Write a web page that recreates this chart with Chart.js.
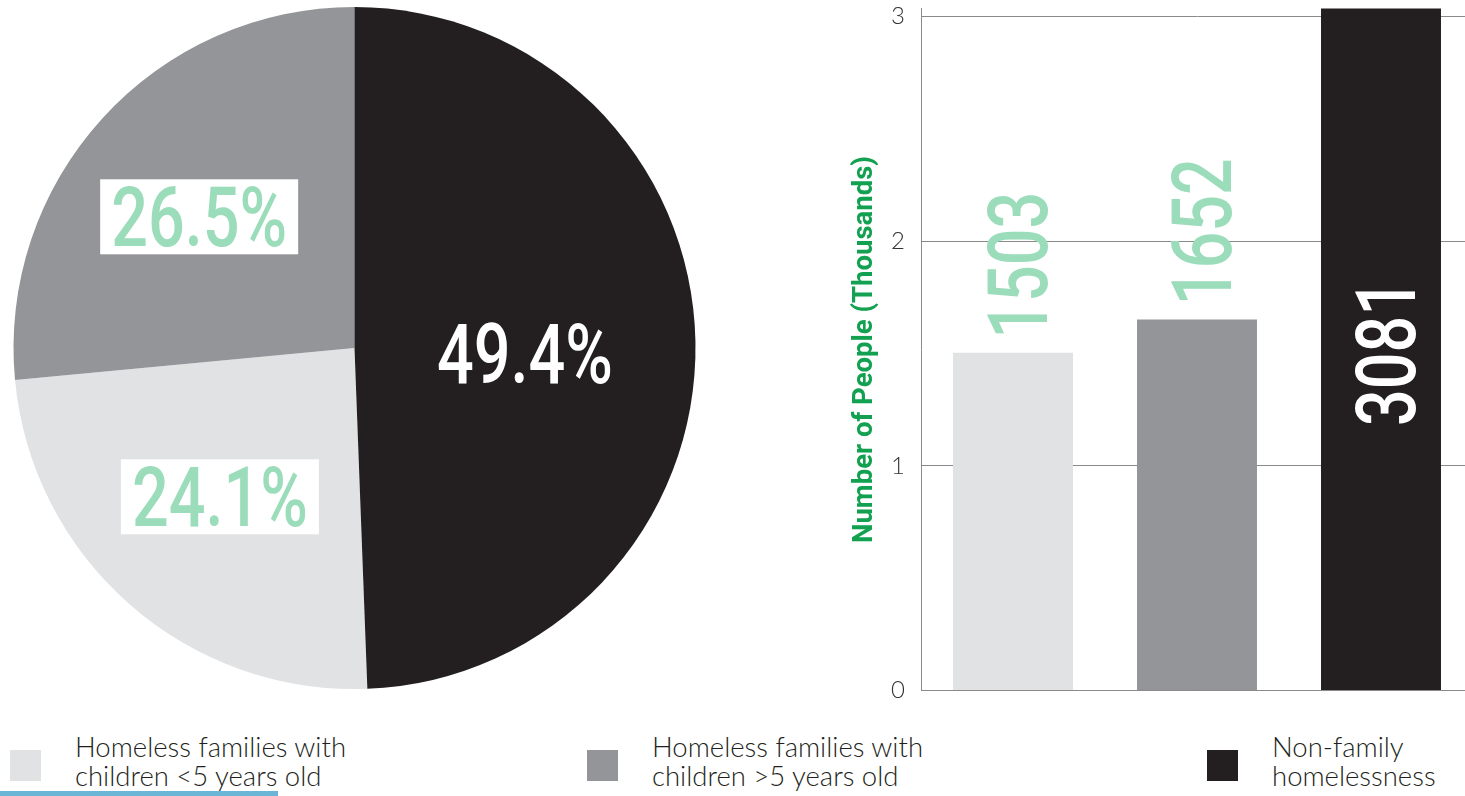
<!DOCTYPE html>
<html lang="en">
<head>
    <meta charset="utf-8">
    <title>Homelessness</title>
    <style>
        body { margin: 0; background: #fff; width: 1465px; height: 796px; overflow: hidden; position: relative; font-family: Lato, "Open Sans", sans-serif; }
        #pieBox { position: absolute; left: 0; top: 0; width: 710px; height: 700px; }
        #barBox { position: absolute; left: 830px; top: -22px; width: 643px; height: 743px; }
        .key { position: absolute; top: 732px; }
        .key .sw { position: absolute; top: 18px; left: 0; width: 31px; height: 31px; }
        .key .txt { position: absolute; top: 0; left: 65px; font-size: 27.5px; font-weight: 300; line-height: 29px; color: #231f20; white-space: nowrap; }
        #blueLine { position: absolute; left: 0; top: 791px; width: 278px; height: 5px; background: #6bb6d6; }
    </style>
</head>
<body>
<div id="pieBox"><canvas id="pieChart"></canvas></div>
<div id="barBox"><canvas id="barChart"></canvas></div>
<div id="legend"></div>
<div id="blueLine"></div>
<script src="https://cdn.jsdelivr.net/npm/chart.js@4.4.0/dist/chart.umd.min.js"></script>
<script type="text/javascript">
    // data
    var categories = ['Homeless families with\nchildren <5 years old', 'Homeless families with\nchildren >5 years old', 'Non-family\nhomelessness'];
    var sharePct = [24.1, 26.5, 49.4];
    var shareLabels = ['24.1%', '26.5%', '49.4%'];
    var peopleThousands = [1.503, 1.652, 3.081];
    var peopleLabels = ['1503', '1652', '3081'];
    var yTicks = [0, 1, 2, 3];

    var colors = ['#e1e2e4', '#939598', '#231f20'];
    var green = '#9bdcbb';
    var bigSize = 83;
    var bigFont = '500 ' + bigSize + 'px Roboto, sans-serif';
    var squeeze = 0.78;             // narrow the digits a bit (DIN-like)
    var capH = bigSize * 0.711;

    // legend (html)
    var legendX = [10, 587, 1207];
    var legend = document.getElementById('legend');
    categories.forEach(function (c, i) {
        var d = document.createElement('div');
        d.className = 'key';
        d.style.left = legendX[i] + 'px';
        d.innerHTML = '<div class="sw" style="background:' + colors[i] + '"></div><div class="txt"></div>';
        d.querySelector('.txt').innerHTML = c.replace(/</g, '&lt;').replace(/>/g, '&gt;').replace('\n', '<br>');
        legend.appendChild(d);
    });

    function squeezedText(ctx, txt, x, y) {
        // draws txt centred on (x, y) using cap height
        ctx.save();
        ctx.translate(x, y);
        ctx.scale(squeeze, 1);
        ctx.textAlign = 'center';
        ctx.textBaseline = 'alphabetic';
        ctx.fillText(txt, 0, capH / 2);
        ctx.restore();
    }

    var pieLabels = {
        id: 'pieLabels',
        afterDatasetsDraw: function (chart, args, opts) {
            var ctx = chart.ctx;
            var arcs = chart.getDatasetMeta(0).data;
            ctx.save();
            ctx.font = bigFont;
            arcs.forEach(function (a, i) {
                var mid = (a.startAngle + a.endAngle) / 2;
                var r = a.outerRadius * opts.radius[i];
                var x = a.x + Math.cos(mid) * r + opts.dx[i];
                var y = a.y + Math.sin(mid) * r + opts.dy[i];
                if (opts.boxed[i]) {
                    ctx.fillStyle = '#fff';
                    ctx.fillRect(x - 99, y - 37, 198, 75);
                }
                ctx.fillStyle = opts.color[i];
                squeezedText(ctx, shareLabels[i], x, y);
            });
            ctx.restore();
        }
    };

    new Chart(document.getElementById('pieChart'), {
        type: 'pie',
        data: {
            labels: categories,
            datasets: [{data: sharePct, backgroundColor: colors, borderWidth: 0}]
        },
        options: {
            responsive: true,
            maintainAspectRatio: false,
            animation: false,
            rotation: (sharePct[2] / 100) * 360,
            layout: {padding: {left: 13, right: 14, top: 7, bottom: 11}},
            plugins: {
                legend: {display: false},
                tooltip: {enabled: false},
                pieLabels: {radius: [0.59, 0.6, 0.5], dx: [-2, -4, 0], dy: [-3, 6, 9],
                    boxed: [true, true, false], color: [green, green, '#fff']}
            }
        },
        plugins: [pieLabels]
    });

    var barLabels = {
        id: 'barLabels',
        afterDatasetsDraw: function (chart) {
            var ctx = chart.ctx;
            var bars = chart.getDatasetMeta(0).data;
            var yScale = chart.scales.y;
            var area = chart.chartArea;
            ctx.save();
            ctx.font = bigFont;
            bars.forEach(function (b, i) {
                var len = ctx.measureText(peopleLabels[i]).width * squeeze;
                var cy;
                if (peopleThousands[i] > yScale.max) {
                    cy = (area.top + area.bottom) / 2 + 3;
                    ctx.fillStyle = '#fff';
                } else {
                    cy = b.y - 14 - len / 2;
                    ctx.fillStyle = green;
                }
                ctx.save();
                ctx.translate(b.x + 4, cy);
                ctx.rotate(-Math.PI / 2);
                squeezedText(ctx, peopleLabels[i], 0, 0);
                ctx.restore();
            });
            ctx.restore();
        }
    };

    new Chart(document.getElementById('barChart'), {
        type: 'bar',
        data: {
            labels: categories,
            datasets: [{data: peopleThousands, backgroundColor: colors, categoryPercentage: 1, barPercentage: 0.652}]
        },
        options: {
            responsive: true,
            maintainAspectRatio: false,
            animation: false,
            layout: {padding: {left: 15, right: 0, top: 0, bottom: 0}},
            scales: {
                x: {
                    ticks: {display: false},
                    grid: {display: false},
                    border: {display: true, color: '#8a8a8a', width: 1}
                },
                y: {
                    min: yTicks[0],
                    max: 3.036,
                    afterFit: function (s) { s.width = 76; },
                    afterBuildTicks: function (s) { s.ticks = yTicks.map(function (v) { return {value: v}; }); },
                    ticks: {stepSize: 1, includeBounds: false, padding: 16, color: '#333',
                        font: {family: 'Lato', size: 24, weight: '300'}},
                    grid: {color: '#8a8a8a', lineWidth: 1, drawTicks: false},
                    border: {display: true, color: '#8a8a8a', width: 1},
                    title: {display: true, text: 'Number of People (Thousands)', color: '#12a150',
                        font: {family: 'Roboto', size: 27.5, weight: 'bold'}, padding: {top: 4, bottom: 0}}
                }
            },
            plugins: {legend: {display: false}, tooltip: {enabled: false}}
        },
        plugins: [barLabels]
    });
</script>
</body>
</html>
